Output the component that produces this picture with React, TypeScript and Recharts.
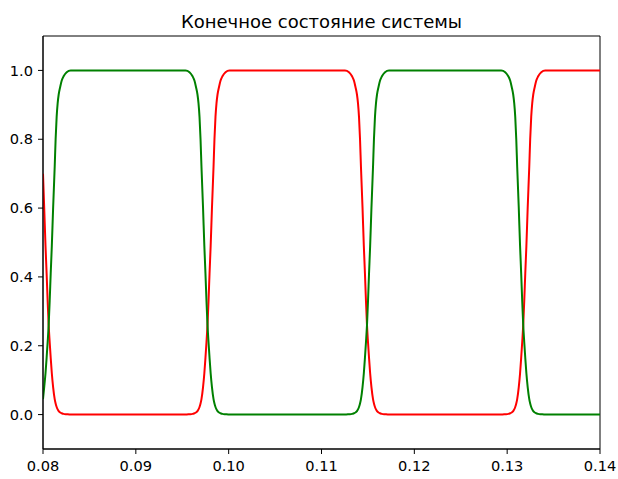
import { LineChart, Line, XAxis, YAxis, ReferenceArea } from 'recharts'

// sample times (s) — dense around each switching edge, sparse on the plateaus
const timeGrid = [
  0.08, 0.08013, 0.08027, 0.08039, 0.0805, 0.08061, 0.08072, 0.08083, 0.08095, 0.08109,
  0.08126, 0.08136, 0.08147, 0.08158, 0.08169, 0.08185, 0.08201, 0.08222, 0.08255, 0.08298,
  0.09535, 0.09578, 0.09611, 0.09632, 0.09648, 0.09664, 0.09675, 0.09686, 0.09697, 0.09707,
  0.09724, 0.09738, 0.0975, 0.09761,
  0.09772, 0.09783, 0.09794, 0.09806, 0.0982, 0.09837, 0.09847, 0.09858, 0.09869, 0.0988,
  0.09896, 0.09912, 0.09933, 0.09966, 0.10009,
  0.11253, 0.11296, 0.11329, 0.1135, 0.11366, 0.11382, 0.11393, 0.11404, 0.11415, 0.11425,
  0.11442, 0.11456, 0.11468, 0.11479,
  0.1149, 0.11501, 0.11512, 0.11524, 0.11538, 0.11555, 0.11565, 0.11576, 0.11587, 0.11598,
  0.11614, 0.1163, 0.11651, 0.11684, 0.11727,
  0.12936, 0.12979, 0.13012, 0.13033, 0.13049, 0.13065, 0.13076, 0.13087, 0.13098, 0.13108,
  0.13125, 0.13139, 0.13151, 0.13162,
  0.13173, 0.13184, 0.13195, 0.13207, 0.13221, 0.13238, 0.13248, 0.13259, 0.1327, 0.13281,
  0.13297, 0.13313, 0.13334, 0.13367, 0.1341,
  0.14,
]

const redState = [
  0.7, 0.6, 0.49, 0.41, 0.33, 0.26, 0.21, 0.165, 0.12, 0.08,
  0.045, 0.032, 0.022, 0.015, 0.01, 0.006, 0.004, 0.002, 0.001, 0,
  0, 0.001, 0.002, 0.004, 0.006, 0.01, 0.015, 0.022, 0.032, 0.045,
  0.08, 0.12, 0.165, 0.21,
  0.26, 0.33, 0.41, 0.49, 0.6, 0.72, 0.8, 0.865, 0.905, 0.93,
  0.952, 0.97, 0.983, 0.995, 1,
  1, 0.995, 0.983, 0.97, 0.952, 0.93, 0.905, 0.865, 0.8, 0.72,
  0.6, 0.49, 0.41, 0.33,
  0.26, 0.21, 0.165, 0.12, 0.08, 0.045, 0.032, 0.022, 0.015, 0.01,
  0.006, 0.004, 0.002, 0.001, 0,
  0, 0.001, 0.002, 0.004, 0.006, 0.01, 0.015, 0.022, 0.032, 0.045,
  0.08, 0.12, 0.165, 0.21,
  0.26, 0.33, 0.41, 0.49, 0.6, 0.72, 0.8, 0.865, 0.905, 0.93,
  0.952, 0.97, 0.983, 0.995, 1,
  1,
]

const greenState = [
  0.045, 0.08, 0.12, 0.165, 0.21, 0.26, 0.33, 0.41, 0.49, 0.6,
  0.72, 0.8, 0.865, 0.905, 0.93, 0.952, 0.97, 0.983, 0.995, 1,
  1, 0.995, 0.983, 0.97, 0.952, 0.93, 0.905, 0.865, 0.8, 0.72,
  0.6, 0.49, 0.41, 0.33,
  0.26, 0.21, 0.165, 0.12, 0.08, 0.045, 0.032, 0.022, 0.015, 0.01,
  0.006, 0.004, 0.002, 0.001, 0,
  0, 0.001, 0.002, 0.004, 0.006, 0.01, 0.015, 0.022, 0.032, 0.045,
  0.08, 0.12, 0.165, 0.21,
  0.26, 0.33, 0.41, 0.49, 0.6, 0.72, 0.8, 0.865, 0.905, 0.93,
  0.952, 0.97, 0.983, 0.995, 1,
  1, 0.995, 0.983, 0.97, 0.952, 0.93, 0.905, 0.865, 0.8, 0.72,
  0.6, 0.49, 0.41, 0.33,
  0.26, 0.21, 0.165, 0.12, 0.08, 0.045, 0.032, 0.022, 0.015, 0.01,
  0.006, 0.004, 0.002, 0.001, 0,
  0,
]

const xTicks = [0.08, 0.09, 0.1, 0.11, 0.12, 0.13, 0.14]
const yTicks = [0, 0.2, 0.4, 0.6, 0.8, 1.0]

const chartData = timeGrid.map((t, i) => ({ t, red: redState[i], green: greenState[i] }))

const FONT = '"DejaVu Sans", sans-serif'

export default function App() {
  return (
    <div style={{ position: 'absolute', left: 0, top: 0, width: 618, height: 479, background: '#fff' }}>
      <svg width={618} height={36} style={{ position: 'absolute', left: 0, top: 0 }}>
        <text x={321.5} y={27.5} textAnchor="middle" fontFamily={FONT} fontSize={18} fill="#000">
          Конечное состояние системы
        </text>
      </svg>
      <LineChart
        width={618}
        height={479}
        data={chartData}
        margin={{ top: 36, right: 18, left: 0, bottom: 0 }}
      >
        <XAxis
          dataKey="t"
          type="number"
          domain={[0.08, 0.14]}
          ticks={xTicks}
          allowDataOverflow
          height={30}
          tickSize={5}
          tickMargin={7}
          tickFormatter={(v) => v.toFixed(2)}
          stroke="#000"
          tick={{ fill: '#000', fontSize: 14.6, fontFamily: FONT }}
        />
        <YAxis
          type="number"
          domain={[-0.1, 1.1]}
          ticks={yTicks}
          allowDataOverflow
          width={43}
          tickSize={5}
          tickMargin={5}
          tickFormatter={(v) => v.toFixed(1)}
          stroke="#000"
          tick={{ fill: '#000', fontSize: 14.6, fontFamily: FONT }}
        />
        <ReferenceArea x1={0.08} x2={0.14} y1={-0.1} y2={1.1} fill="none" stroke="#000" strokeWidth={1} ifOverflow="visible" />
        <Line type="monotone" dataKey="red" stroke="#ff0000" strokeWidth={2} dot={false} isAnimationActive={false} />
        <Line type="monotone" dataKey="green" stroke="#008000" strokeWidth={2} dot={false} isAnimationActive={false} />
      </LineChart>
    </div>
  )
}
